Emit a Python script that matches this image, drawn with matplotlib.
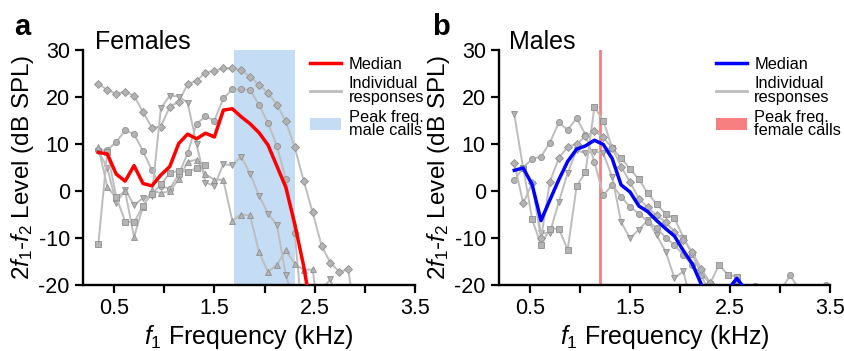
import numpy as np
import matplotlib
matplotlib.use('Agg')
import matplotlib.pyplot as plt
from matplotlib.lines import Line2D
from matplotlib.patches import Patch

plt.rcParams['font.family'] = ['Liberation Sans', 'DejaVu Sans']
plt.rcParams['mathtext.fontset'] = 'custom'
plt.rcParams['mathtext.rm'] = 'Liberation Sans'
plt.rcParams['mathtext.it'] = 'Liberation Sans:italic'

# f1 frequency grid (kHz)
freqs = [0.343, 0.432, 0.521, 0.610, 0.699, 0.788, 0.877, 0.966, 1.055, 1.144,
         1.233, 1.322, 1.411, 1.500, 1.589, 1.678, 1.767, 1.856, 1.945, 2.034,
         2.123, 2.212, 2.301, 2.390, 2.479, 2.568, 2.657, 2.746, 2.835, 2.924,
         3.013, 3.102, 3.191, 3.280, 3.369, 3.458]

# ---- females (panel a) ----
fem_median = [8.2, 7.9, 3.6, 2.1, 5.4, 1.6, 1.1, 3.4, 5.2, 10.1, 12.1, 11.1, 12.3,
              11.5, 17.2, 17.5, 15.8, 14.3, 12.4, 9.8, 5.3, 0.8, -7.0, -16.0, -27]
fem_A = [22.8, 21.5, 20.7, 21.1, 20.3, 16.8, 13.5, 13.7, 17.9, 19.0, 22.7, 23.5, 25.2,
         25.6, 26.1, 26.1, 25.7, 24.3, 22.6, 20.9, 18.4, 14.8, 9.3, 2.2, -4.5, -11.6,
         -15.3, -17.2, -16.7, -30]
fem_B = [8.7, 8.7, 10.4, 12.9, 12.1, 8.5, 4.4, 1.0, 0.5, 3.5, 8.0, 14.3, 15.9, 15.0,
         19.7, 21.6, 21.6, 21.5, 18.3, 14.5, 9.6, 2.5, -9.0, -30]
fem_D = [8.5, 4.9, -2.6, 0.3, -3.0, -1.5, -1.0, 17.6, 20.3, 20.1, 18.8, 10.0, 1.8, 1.1,
         5.7, 5.5, 7.3, 3.7, -1.0, -4.8, -7.2, -17.9, -24, -23, -22, -21, -18.8, -25]
fem_E = [9.3, 0.9, -1.5, 0.0, -9.8, -3.3, 0.2, -0.5, 0.0, 2.5, 6.2, 6.7, 3.6, 2.4, 2.4,
         -6.3, -5.0, -5.2, -13.0, -17.2, -15.7, -12.6, -15.5, -16.8, -16.7, -30]
fem_F = [-11.3, 8.3, -1.2, -6.5, -6.7, -3.1, -0.6, 1.4, 3.8, 4.3, 4.1, 4.8, 5.5]
fem_lines = [(fem_A, 'D'), (fem_B, 'o'), (fem_D, 'v'), (fem_E, '^'), (fem_F, 's')]
male_call_band = (1.70, 2.30)

# ---- males (panel b) ----
male_median = [4.4, 4.9, 1.4, -6.3, -1.9, 2.4, 6.3, 8.9, 9.6, 10.8, 9.9, 6.9, 1.3, -0.2,
               -3.2, -4.4, -6.3, -8.0, -9.6, -12.7, -15.5, -19.8, -26, -26, -21, -18.6, -21, -26]
male_M1 = [16.3, 4.8, 1.5, -9.0, -8.9, -2.3, 3.8, 8.7, 8.0, 8.4, 8.0, 3.0, -6.6, -10.1,
           -8.2, -6.2, -9.4, -12.9, -18.5, -17.1, -25]
male_M2 = [np.nan, 5.0, -6.0, -11.5, -8.0, -8.0, -12.5, 1.0, 4.0, 17.8, 15.0, 9.1, 7.0,
           4.7, 2.5, -0.5, -2.8, -4.9, -5.8, -9.9, -13.5, -17.6, -19.7, -15.7, -17.8,
           -18.2, -25]
male_M3 = [2.3, 5.0, 6.8, 7.3, 10.3, 14.6, 13.0, 15.5, 12.0, 6.2, -0.9, 1.3, -1.2, -3.4,
           -4.8, -6.6, -7.8, -9.9, -11.5, -13.6, -15.8, -17.9, -22, -21, -21, -19.2, -22,
           -20.2, -21, -22, -21, -17.9, -21, -22, -21, -20.0]
male_M4 = [5.9, -2.6, 1.6, -10.1, 2.0, 7.0, 9.4, 10.0, 11.6, 12.8, 11.4, 9.1, 5.2, 1.9,
           -1.6, -3.5, -5.2, -6.6, -8.7, -10.4, -13.0, -16.5, -19.5, -24]
male_lines = [(male_M1, 'v'), (male_M2, 's'), (male_M3, 'o'), (male_M4, 'D')]
female_call_peak = 1.2

gray_line = '#bdbdbd'
gray_face = '#b3b3b3'
gray_edge = '#8f8f8f'

fig = plt.figure(figsize=(8.45, 3.51), dpi=100)
ax1 = fig.add_axes([83/845, 66/351, 332/845, 235/351])
ax2 = fig.add_axes([499/845, 66/351, 331/845, 235/351])


def draw_individual(ax, lines):
    for vals, mk in lines:
        ax.plot(freqs[:len(vals)], vals, color=gray_line, lw=1.4, marker=mk,
                ms=3.8 if mk in ('D', 's') else 4.4, mfc=gray_face, mec=gray_edge,
                mew=0.6, zorder=2)


def style_axes(ax):
    ax.set_xlim(0.19, 3.5)
    ax.set_ylim(-20, 30)
    ax.set_xticks([0.5, 1.5, 2.5, 3.5])
    ax.set_xticks([1.0, 2.0, 3.0], minor=True)
    ax.set_yticks([-20, -10, 0, 10, 20, 30])
    ax.set_yticklabels(['-20', '-10', '0', '10', '20', '30'])
    ax.tick_params(which='both', direction='out', length=6, width=1.6, labelsize=15.5,
                   pad=3.5)
    for s in ['top', 'right']:
        ax.spines[s].set_visible(False)
    for s in ['left', 'bottom']:
        ax.spines[s].set_linewidth(1.7)
    ax.set_xlabel(r'$f_1$ Frequency (kHz)', fontsize=18, labelpad=3)
    ax.set_ylabel(r'$2f_1$-$f_2$ Level (dB SPL)', fontsize=17.5, labelpad=2)


def add_legend(ax, handles, labels, x0):
    leg = ax.legend(handles, labels, loc='upper left', bbox_to_anchor=(x0, 1.0),
                    frameon=False, fontsize=11.8, handlelength=1.9, handletextpad=0.45,
                    labelspacing=0.3, borderaxespad=0)
    for t in leg.get_texts():
        t.set_linespacing(0.85)


# panel a
ax1.axvspan(male_call_band[0], male_call_band[1], color='#c4dcf4', zorder=1, lw=0)
draw_individual(ax1, fem_lines)
ax1.plot(freqs[:len(fem_median)], fem_median, color='#ff0000', lw=2.5, zorder=3)
style_axes(ax1)
h1 = [Line2D([], [], color='#ff0000', lw=2.5),
      Line2D([], [], color=gray_line, lw=2),
      Patch(facecolor='#c4dcf4', edgecolor='none')]
add_legend(ax1, h1, ['Median', 'Individual\nresponses', 'Peak freq.\nmale calls'], 0.665)
fig.text(14/845, 1 - 35/351, 'a', fontsize=21, fontweight='bold')
fig.text(95/845, 1 - 49/351, 'Females', fontsize=18)

# panel b
ax2.axvline(female_call_peak, color='#f77f7f', lw=2, zorder=1)
draw_individual(ax2, male_lines)
ax2.plot(freqs[:len(male_median)], male_median, color='#0000ff', lw=2.5, zorder=3)
style_axes(ax2)
h2 = [Line2D([], [], color='#0000ff', lw=2.5),
      Line2D([], [], color=gray_line, lw=2),
      Patch(facecolor='#f77f7f', edgecolor='none')]
add_legend(ax2, h2, ['Median', 'Individual\nresponses', 'Peak freq.\nfemale calls'], 0.635)
fig.text(432/845, 1 - 35/351, 'b', fontsize=21, fontweight='bold')
fig.text(509/845, 1 - 49/351, 'Males', fontsize=18)

fig.savefig('out.png', dpi=100)
